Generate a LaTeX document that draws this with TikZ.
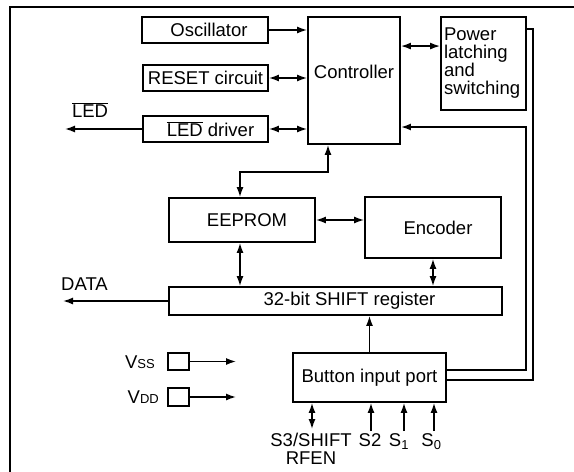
\documentclass[tikz,border=0pt]{standalone}
\usepackage{fontspec}
\setmainfont{Liberation Sans}
\usetikzlibrary{arrows.meta}

\tikzset{
  blk/.style={draw,line width=1.9pt,inner sep=0pt},
  arr/.style={line width=1.4pt,-{Latex[length=10pt,width=7pt]}},
  darr/.style={line width=1.4pt,{Latex[length=10pt,width=7pt]}-{Latex[length=10pt,width=7pt]}},
  rail/.style={line width=1.7pt},
  lbl/.style={inner sep=0pt}
}

\begin{document}
\begin{tikzpicture}[x=1pt,y=-1pt,font=\fontsize{18.5pt}{16.5pt}\selectfont]
\useasboundingbox (0,0) rectangle (574,472);
\draw[line width=2.3pt] (10,472) -- (10,7) -- (574,7);

% blocks
\node[blk,minimum width=126pt,minimum height=26pt] (osc) at (205,30) {\hspace*{8pt}Oscillator};
\node[blk,minimum width=125pt,minimum height=26pt] (rst) at (205.5,78) {RESET circuit};
\node[blk,minimum width=125pt,minimum height=26pt] (ldrv) at (205.5,129) {\hspace*{10pt}$\overline{\mbox{LED}}$ driver};
\node[blk,minimum width=92pt,minimum height=127pt,label={[yshift=8.5pt]center:Controller}] (ctrl) at (354,80.5) {};
\node[blk,minimum width=85pt,minimum height=93pt,text width=79pt,align=left,font=\fontsize{18.5pt}{18pt}\selectfont] (pwr) at (483.5,63.5) {Power\\latching\\and\\switching};
\node[blk,minimum width=146pt,minimum height=44pt] (eep) at (242,220) {\hspace*{10pt}EEPROM};
\node[blk,minimum width=136pt,minimum height=61pt] (enc) at (433,227.5) {\hspace*{10pt}Encoder};
\node[blk,minimum width=333pt,minimum height=28pt,label={[xshift=14pt]center:32-bit SHIFT register}] (shr) at (335.5,301) {};
\node[blk,minimum width=153pt,minimum height=49pt] (btn) at (369.5,377.5) {Button input port};
\node[blk,minimum width=21pt,minimum height=17pt] (vss) at (178.5,361.5) {};
\node[blk,minimum width=21pt,minimum height=18pt] (vdd) at (178.5,397) {};

% labels
\node[lbl] (ledlbl) at (90,110) {$\overline{\mbox{LED}}$};
\node[lbl] (datalbl) at (84.5,284) {DATA};
\node[lbl,anchor=east] (vsslbl) at (155,362) {V{\fontsize{13pt}{13pt}\selectfont SS}};
\node[lbl,anchor=east] (vddlbl) at (159,397) {V{\fontsize{13pt}{13pt}\selectfont DD}};
\node[lbl,anchor=north,align=center] (s3) at (311,433) {S3/SHIFT\\[1.5pt]RFEN};
\node[lbl,anchor=north] (s2) at (370,433) {S2};
\node[lbl,anchor=north] (s1) at (399,433) {S\textsubscript{1}};
\node[lbl,anchor=north] (s0) at (431.5,433) {S\textsubscript{0}};

% free ends
\coordinate (ledout) at (65,129);
\coordinate (dataout) at (63,301);
\coordinate (vssout) at (236,361.5);
\coordinate (vddout) at (236,397);
\coordinate (p3) at (312,429);
\coordinate (p2) at (371,431);
\coordinate (p1) at (404,431);
\coordinate (p0) at (434,431);
\coordinate (pl) at ([yshift=-30pt]pwr.north west);
\coordinate (ra) at (526,127);
\coordinate (rb) at (533,29);

% connections
\draw[arr] (osc.east) -- (osc.east -| ctrl.west);
\draw[darr] (rst.east) -- (rst.east -| ctrl.west);
\draw[darr] (ldrv.east) -- (ldrv.east -| ctrl.west);
\draw[arr] (ldrv.west) -- (ledout);
\draw[darr] (pl -| ctrl.east) -- (pl);
\draw[darr] ([xshift=-26pt]ctrl.south) -- ++(0,27) -| ([xshift=-2pt]eep.north);
\draw[darr] ([xshift=-2pt]eep.south) -- ([xshift=-2pt]eep.south |- shr.north);
\draw[darr] (eep.east) -- (eep.east -| enc.west);
\draw[darr] (enc.south) -- (enc.south |- shr.north);
\draw[arr] (shr.west) -- (dataout);
\draw[arr] (btn.north) -- (btn.north |- shr.south);
\draw[arr] (vss.east) -- (vssout);
\draw[arr] (vdd.east) -- (vddout);
\draw[darr] (p3) -- (p3 |- btn.south);
\foreach \p in {p2,p1,p0}
  \draw[arr] (\p) -- (\p |- btn.south);

% power rails
\draw[rail,-{Latex[length=10pt,width=7pt]}] ([yshift=7.5pt]btn.east) -| (ra) -- (ra -| ctrl.east);
\draw[rail] (rb -| pwr.east) -- (rb) |- ([yshift=-2.5pt]btn.east);
\end{tikzpicture}
\end{document}
